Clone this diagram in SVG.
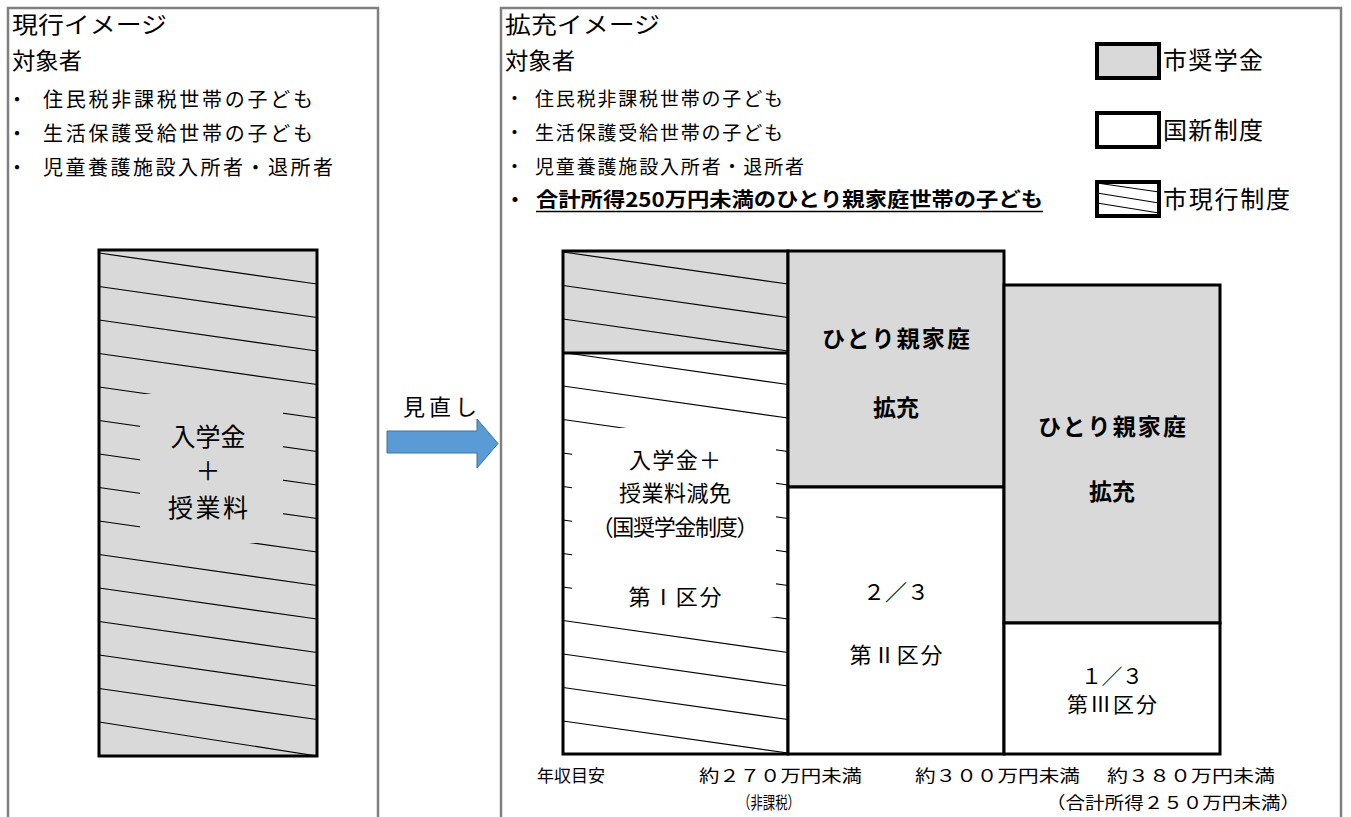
<svg xmlns="http://www.w3.org/2000/svg" width="1351" height="817" viewBox="0 0 1351 817">
<style>
.t{font-family:"Noto Sans CJK JP","Noto Sans CJK SC",sans-serif;fill:#000}
.panel{fill:none;stroke:#808080;stroke-width:2.5}
.box{stroke:#000;stroke-width:3}
.gray{fill:#d9d9d9}
.white{fill:#fff}
.h{stroke:#000;stroke-width:1.2;fill:none}
.b{font-weight:bold}
</style>
<defs>
<clipPath id="clipL"><rect x="99" y="250" width="218" height="506"/></clipPath>
<clipPath id="clipC1"><rect x="563" y="251" width="225" height="503"/></clipPath>
</defs>
<rect width="1351" height="817" fill="#fff"/>

<g id="panel-current">
<rect class="panel" x="8" y="8" width="370" height="830"/>
<text class="t" x="12" y="33" font-size="23" textLength="155" lengthAdjust="spacingAndGlyphs">現行イメージ</text>
<text class="t" x="12" y="69" font-size="23" textLength="70" lengthAdjust="spacingAndGlyphs">対象者</text>
<text class="t" x="7" y="107" font-size="20">・</text>
<text class="t" x="43" y="107" font-size="20" textLength="270">住民税非課税世帯の子ども</text>
<text class="t" x="7" y="141" font-size="20">・</text>
<text class="t" x="43" y="141" font-size="20" textLength="270">生活保護受給世帯の子ども</text>
<text class="t" x="7" y="175" font-size="20">・</text>
<text class="t" x="43" y="175" font-size="20" textLength="290">児童養護施設入所者・退所者</text>
</g>

<g id="node-current-block">
<rect class="gray" x="99" y="250" width="218" height="506"/>
<g clip-path="url(#clipL)">
<path class="h" d="M99,253L317,284M99,286.5L317,317.5M99,320L317,351M99,353.5L317,384.5M99,387L317,418M99,420.5L317,451.5M99,454L317,485M99,487.5L317,518.5M99,521L317,552M99,554.5L317,585.5M99,588L317,619M99,621.5L317,652.5M99,655L317,686M99,688.5L317,719.5M99,722L317,756"/>
</g>
<rect class="gray" x="140" y="394" width="143" height="149"/>
<rect fill="none" class="box" x="99" y="250" width="218" height="506"/>
<text class="t" x="208" y="446" font-size="25" text-anchor="middle">入学金</text>
<text class="t" x="208" y="480" font-size="25" text-anchor="middle">＋</text>
<text class="t" x="208" y="517" font-size="25" text-anchor="middle" textLength="80">授業料</text>
</g>

<g id="connectors">
<text class="t" x="403" y="415" font-size="22" textLength="74">見直し</text>
<path d="M387,431H477V419L498,443.5L477,468V453H387Z" fill="#5b9bd5" stroke="#41719c" stroke-width="1"/>
</g>

<g id="panel-expanded">
<rect class="panel" x="501" y="8" width="840" height="830"/>
<text class="t" x="505" y="33" font-size="23" textLength="155" lengthAdjust="spacingAndGlyphs">拡充イメージ</text>
<text class="t" x="505" y="69" font-size="23" textLength="70" lengthAdjust="spacingAndGlyphs">対象者</text>
<text class="t" x="505" y="106" font-size="19">・</text>
<text class="t" x="535" y="106" font-size="19" textLength="248">住民税非課税世帯の子ども</text>
<text class="t" x="505" y="140" font-size="19">・</text>
<text class="t" x="535" y="140" font-size="19" textLength="248">生活保護受給世帯の子ども</text>
<text class="t" x="505" y="174" font-size="19">・</text>
<text class="t" x="535" y="174" font-size="19" textLength="269">児童養護施設入所者・退所者</text>
<text class="t b" x="505" y="207" font-size="20">・</text>
<text class="t b" x="536" y="207" font-size="20" textLength="507" lengthAdjust="spacingAndGlyphs">合計所得250万円未満のひとり親家庭世帯の子ども</text>
<line x1="536" y1="211.5" x2="1043" y2="211.5" stroke="#000" stroke-width="1.6"/>
</g>

<g id="legend">
<rect class="gray" x="1097" y="44" width="62" height="34" stroke="#000" stroke-width="4"/>
<text class="t" x="1163" y="69" font-size="24" textLength="100">市奨学金</text>
<rect class="white" x="1097" y="113" width="62" height="34" stroke="#000" stroke-width="4"/>
<text class="t" x="1163" y="139" font-size="24" textLength="100">国新制度</text>
<rect class="white" x="1097" y="182" width="62" height="34" stroke="#000" stroke-width="4"/>
<path class="h" d="M1097,183L1159,192M1097,193L1159,203M1097,203L1159,213"/>
<text class="t" x="1163" y="208" font-size="24" textLength="127">市現行制度</text>
</g>

<g id="node-col1">
<rect class="gray" x="563" y="251" width="225" height="102"/>
<rect class="white" x="563" y="353" width="225" height="401"/>
<g clip-path="url(#clipC1)">
<path class="h" d="M563,252L788,284M563,285.5L788,317.5M563,319L788,351M563,352.5L788,384.5M563,386L788,418M563,419.5L788,451.5M563,453L788,485M563,486.5L788,518.5M563,520L788,552M563,553.5L788,585.5M563,587L788,619M563,620.5L788,652.5M563,654L788,686M563,687.5L788,719.5M563,721L788,753"/>
</g>
<rect class="white" x="572" y="428" width="204" height="189"/>
<rect fill="none" class="box" x="563" y="251" width="225" height="503"/>
<line class="box" x1="563" y1="353" x2="788" y2="353"/>
<text class="t" x="675" y="468" font-size="22" text-anchor="middle" textLength="92">入学金＋</text>
<text class="t" x="675" y="501" font-size="22" text-anchor="middle" textLength="112">授業料減免</text>
<text class="t" x="675" y="535" font-size="22" text-anchor="middle" textLength="167">（国奨学金制度）</text>
<text class="t" x="675" y="605" font-size="22" text-anchor="middle" textLength="93">第Ⅰ区分</text>
</g>

<g id="node-col2">
<rect class="gray box" x="788" y="251" width="216" height="236"/>
<rect class="white box" x="788" y="487" width="216" height="267"/>
<text class="t b" x="896" y="347" font-size="23" text-anchor="middle" textLength="148">ひとり親家庭</text>
<text class="t b" x="896" y="416" font-size="23" text-anchor="middle">拡充</text>
<text class="t" x="896" y="600" font-size="22" text-anchor="middle" textLength="66">２／３</text>
<text class="t" x="896" y="663" font-size="22" text-anchor="middle" textLength="93">第Ⅱ区分</text>
</g>

<g id="node-col3">
<rect class="gray box" x="1004" y="285" width="216" height="338"/>
<rect class="white box" x="1004" y="623" width="216" height="131"/>
<text class="t b" x="1112" y="435" font-size="23" text-anchor="middle" textLength="148">ひとり親家庭</text>
<text class="t b" x="1112" y="500" font-size="23" text-anchor="middle">拡充</text>
<text class="t" x="1112" y="684" font-size="21" text-anchor="middle" textLength="62">１／３</text>
<text class="t" x="1112" y="712" font-size="21" text-anchor="middle" textLength="90">第Ⅲ区分</text>
</g>

<g id="axis-labels">
<text class="t" x="537" y="782" font-size="17" textLength="68" lengthAdjust="spacingAndGlyphs">年収目安</text>
<text class="t" x="699" y="782" font-size="17" textLength="163" lengthAdjust="spacingAndGlyphs">約２７０万円未満</text>
<text class="t" x="915" y="782" font-size="17" textLength="165" lengthAdjust="spacingAndGlyphs">約３００万円未満</text>
<text class="t" x="1107" y="782" font-size="17" textLength="168" lengthAdjust="spacingAndGlyphs">約３８０万円未満</text>
<text class="t" x="738" y="809" font-size="17" textLength="62" lengthAdjust="spacingAndGlyphs">（非課税）</text>
<text class="t" x="1046" y="809" font-size="17" textLength="254" lengthAdjust="spacingAndGlyphs">（合計所得２５０万円未満）</text>
</g>
</svg>
